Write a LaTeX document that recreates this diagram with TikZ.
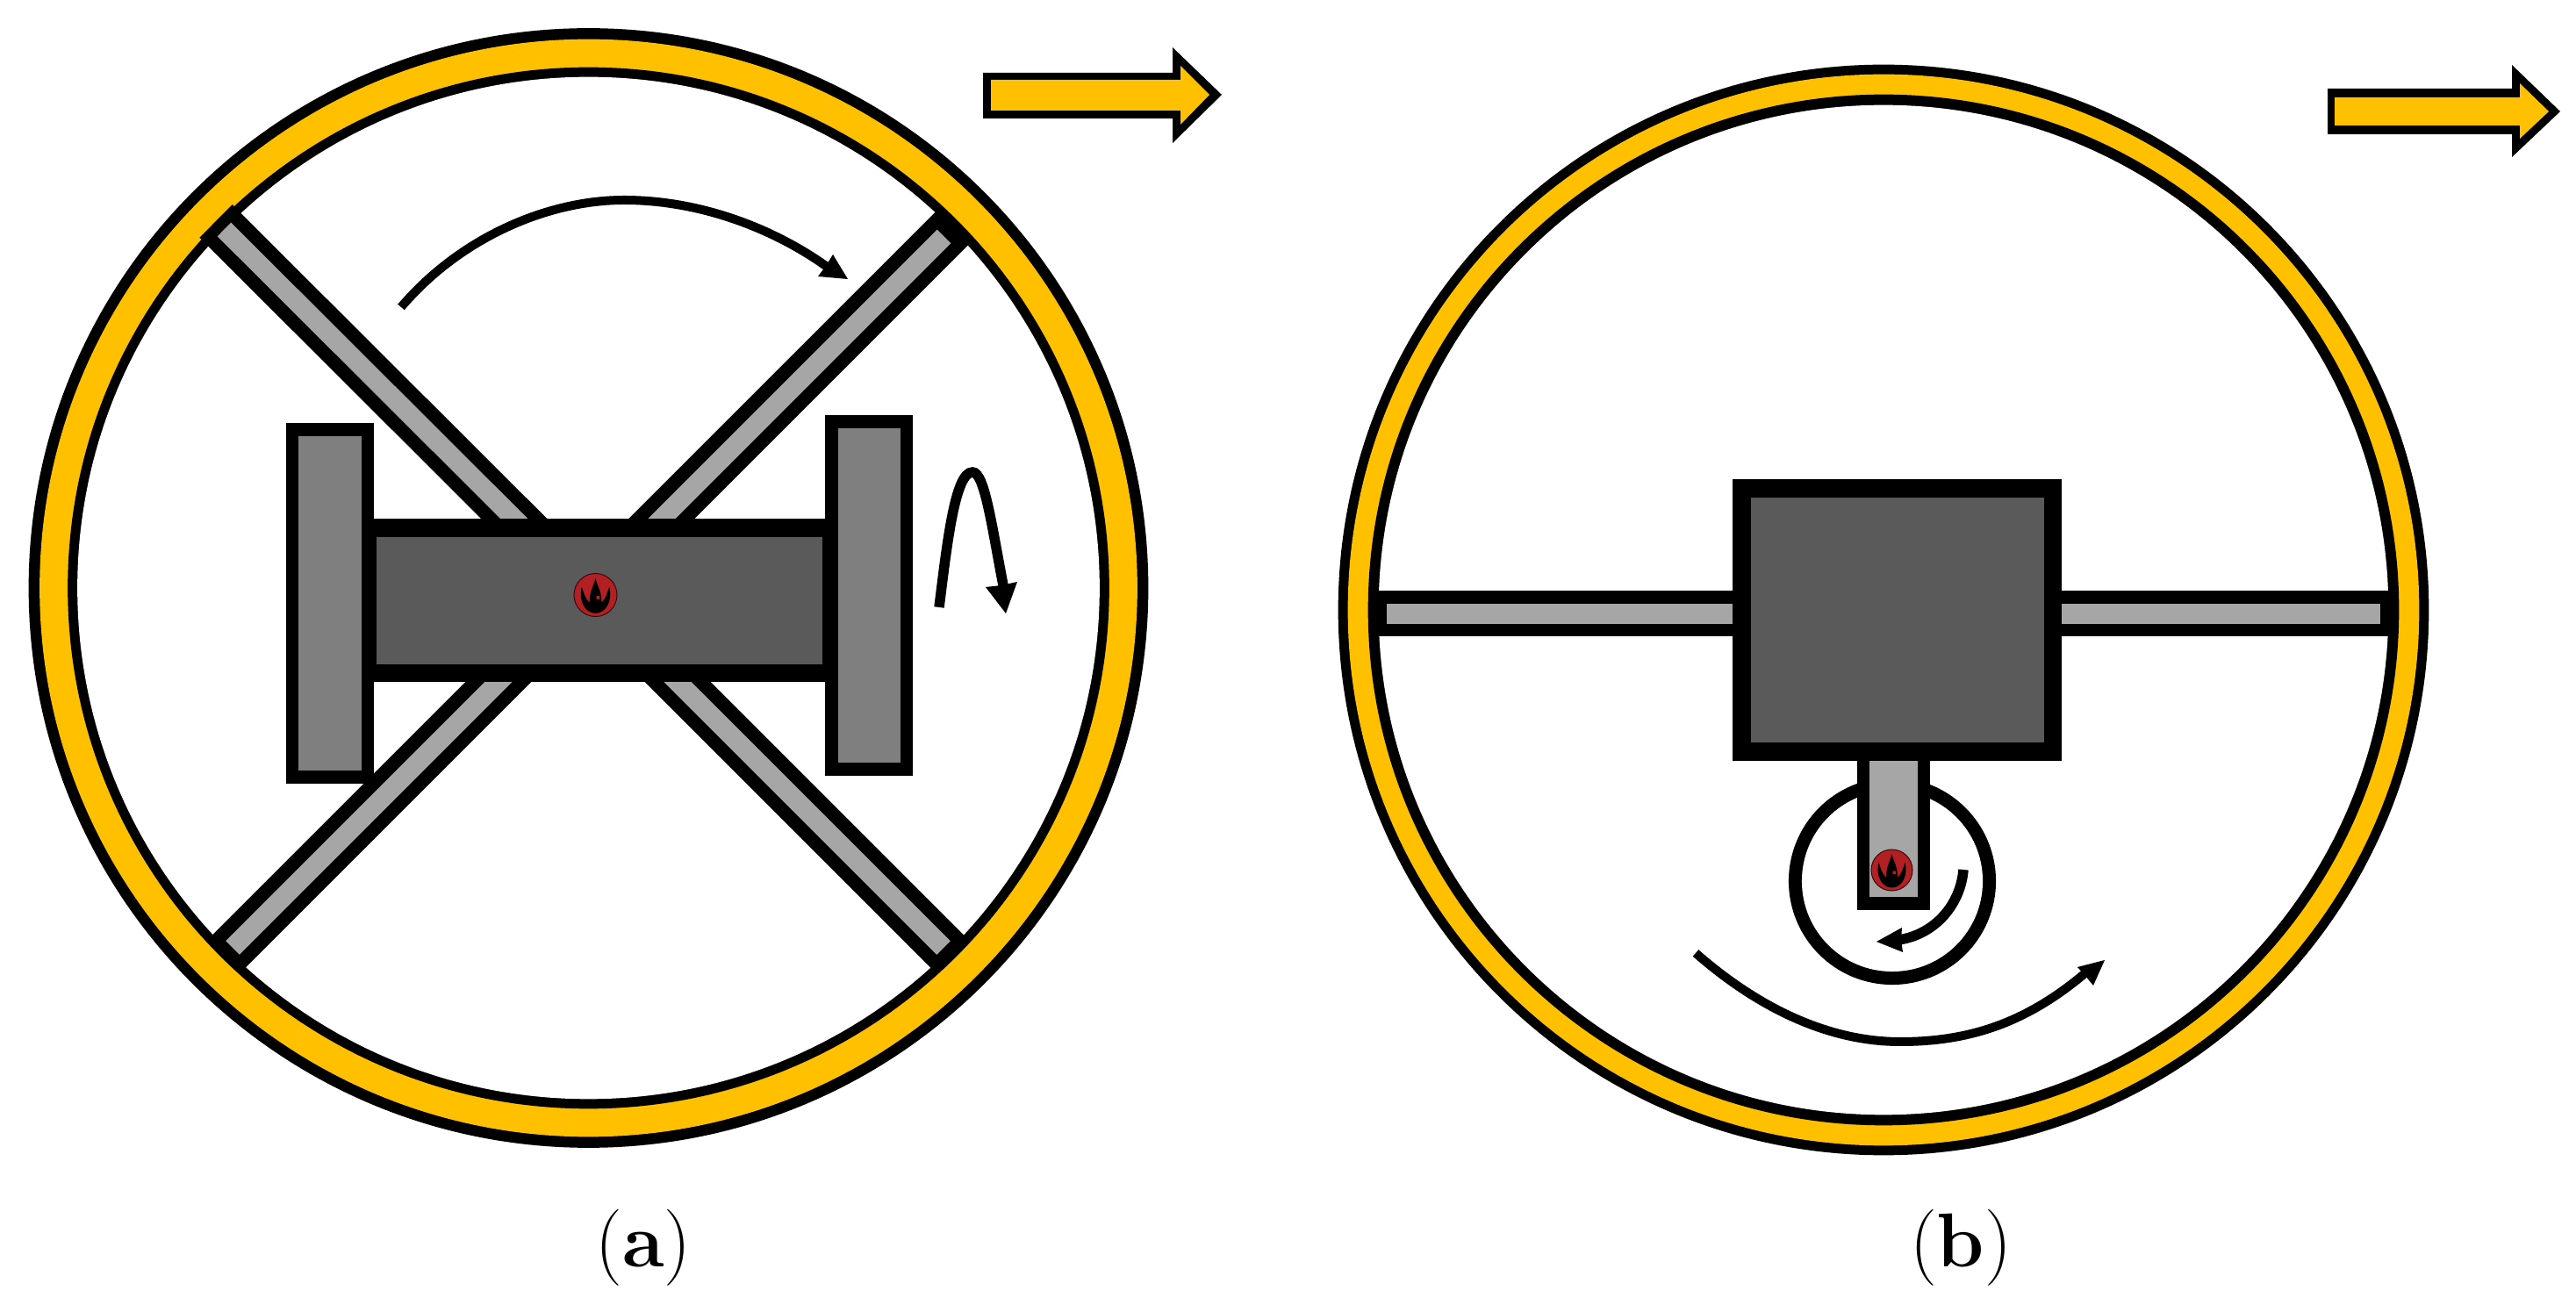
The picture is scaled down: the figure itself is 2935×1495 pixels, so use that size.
\documentclass[tikz,border=0pt]{standalone}
\definecolor{ringyellow}{HTML}{FFC000}
\definecolor{bodygray}{HTML}{5A5A5A}
\definecolor{flangegray}{HTML}{7F7F7F}
\definecolor{rodgray}{HTML}{A6A6A6}
\definecolor{firered}{HTML}{B22024}
\tikzset{
  rodout/.style={draw=black,line width=0.53cm},
  rodin/.style={draw=rodgray,line width=0.22cm},
  curve/.style={draw=black,line width=0.10cm},
  curvethick/.style={draw=black,line width=0.115cm},
  tiphead/.style={fill=black},
  caption/.style={inner sep=0pt,font=\fontsize{24.75}{30}\selectfont},
  fireicon/.pic={
    \fill[firered,draw=black!70!firered,line width=0.01cm] (0,0) circle (1);
    \fill[black] (-0.64,0.38) .. controls (-0.8,-0.25) and (-0.5,-0.85) .. (0,-0.85)
      .. controls (0.5,-0.85) and (0.8,-0.25) .. (0.64,0.38)
      .. controls (0.5,-0.05) and (0.4,-0.42) .. (0,-0.42)
      .. controls (-0.4,-0.42) and (-0.5,-0.05) .. cycle;
    \fill[black] (0,0.78) .. controls (0.1,0.35) and (0.34,0.1) .. (0.26,-0.55)
      -- (-0.26,-0.55) .. controls (-0.34,0.1) and (-0.1,0.35) .. cycle;
    \fill[firered] (0.12,-0.12) circle (0.09);
  }
}
\begin{document}
\begin{tikzpicture}[x=0.01cm,y=-0.01cm]
\useasboundingbox (0,0) rectangle (2935,1495);
\coordinate (firea) at (678.5,678);
\coordinate (fireb) at (2155.5,991.5);
% ---------- panel a ----------
\fill[black] (670.5,670) circle (6.375cm);
\fill[ringyellow] (670.5,670) circle (6.25cm);
\fill[black] (670.5,670) circle (5.93cm);
\fill[white] (670.5,670) circle (5.82cm);
% rods
\draw[rodout] (246,252) -- (700,705);
\draw[rodout] (1087,258) -- (680,665);
\draw[rodout] (257,1088) -- (680,665);
\draw[rodout] (1086,1091) -- (700,705);
\draw[rodin] (255.5,261.5) -- (700,705);
\draw[rodin] (1075.5,269.5) -- (680,665);
\draw[rodin] (265,1080) -- (680,665);
\draw[rodin] (1075,1080) -- (700,705);
% body
\fill[black] (410,591) rectangle (957,777);
\fill[bodygray] (429,612) rectangle (937,757);
% flanges
\fill[black] (325.5,482) rectangle (426,893);
\fill[flangegray] (340,497) rectangle (412,878);
\fill[black] (940,473) rectangle (1040,884);
\fill[flangegray] (955,488) rectangle (1026,869);
\pic[x=0.245cm,y=0.245cm] at (firea) {fireicon};
% rotation arrows
\draw[curve] (457,350) .. controls (525,270) and (625,228) .. (711,228) .. controls (800,228) and (885,262) .. (945,306);
\fill[tiphead] (966,318) -- (949,290) -- (941,303) -- (932,315) -- cycle;
\draw[curvethick] (1070,692) .. controls (1079,620) and (1088,538) .. (1108,538) .. controls (1122,538) and (1130,600) .. (1144,672);
\fill[tiphead] (1146,699) -- (1123,669) -- (1141,667) -- (1159,663) -- cycle;
% direction arrow
\fill[black] (1120,83) -- (1336,83) -- (1336,54) -- (1392,108) -- (1336,163) -- (1336,135) -- (1120,135) -- cycle;
\fill[ringyellow] (1129,91) -- (1345,91) -- (1345,75) -- (1378,108) -- (1345,142) -- (1345,126) -- (1129,126) -- cycle;
\node[caption] (capa) at (733,1422) {(\textbf{a})};
% ---------- panel b ----------
\fill[black] (2146,695) circle (6.21cm);
\fill[ringyellow] (2146,695) circle (6.10cm);
\fill[black] (2146,695) circle (5.87cm);
\fill[white] (2146,695) circle (5.75cm);
% horizontal rods
\fill[black] (1565,673) rectangle (2727,725);
\fill[rodgray] (1580,688) rectangle (2712,711);
% crank
\fill[black] (2156,1004) circle (1.18cm);
\fill[white] (2156,1004) circle (1.03cm);
\fill[black] (2116,860) rectangle (2199,1037);
\fill[rodgray] (2130,860) rectangle (2185,1022);
% box
\fill[black] (1974,546) rectangle (2349,867);
\fill[bodygray] (1995,567) rectangle (2329,846);
\pic[x=0.235cm,y=0.235cm] at (fireb) {fireicon};
% rotation arrows
\draw[curvethick] (2237,991) .. controls (2234,1030) and (2205,1065) .. (2163,1071);
\fill[tiphead] (2138,1073) -- (2167,1057) -- (2166,1071) -- (2168,1085) -- cycle;
\draw[curve] (1932,1086) .. controls (2005,1150) and (2085,1187) .. (2165,1187) .. controls (2245,1187) and (2310,1165) .. (2378,1107);
\fill[tiphead] (2398,1094) -- (2367,1102) -- (2376,1112) -- (2385,1123) -- cycle;
% direction arrow
\fill[black] (2652,101) -- (2862,101) -- (2862,74) -- (2917,127) -- (2862,179) -- (2862,153) -- (2652,153) -- cycle;
\fill[ringyellow] (2660,111) -- (2871,111) -- (2871,95) -- (2904,127) -- (2871,158) -- (2871,143) -- (2660,143) -- cycle;
\node[caption] (capb) at (2234,1422) {(\textbf{b})};
\end{tikzpicture}
\end{document}
